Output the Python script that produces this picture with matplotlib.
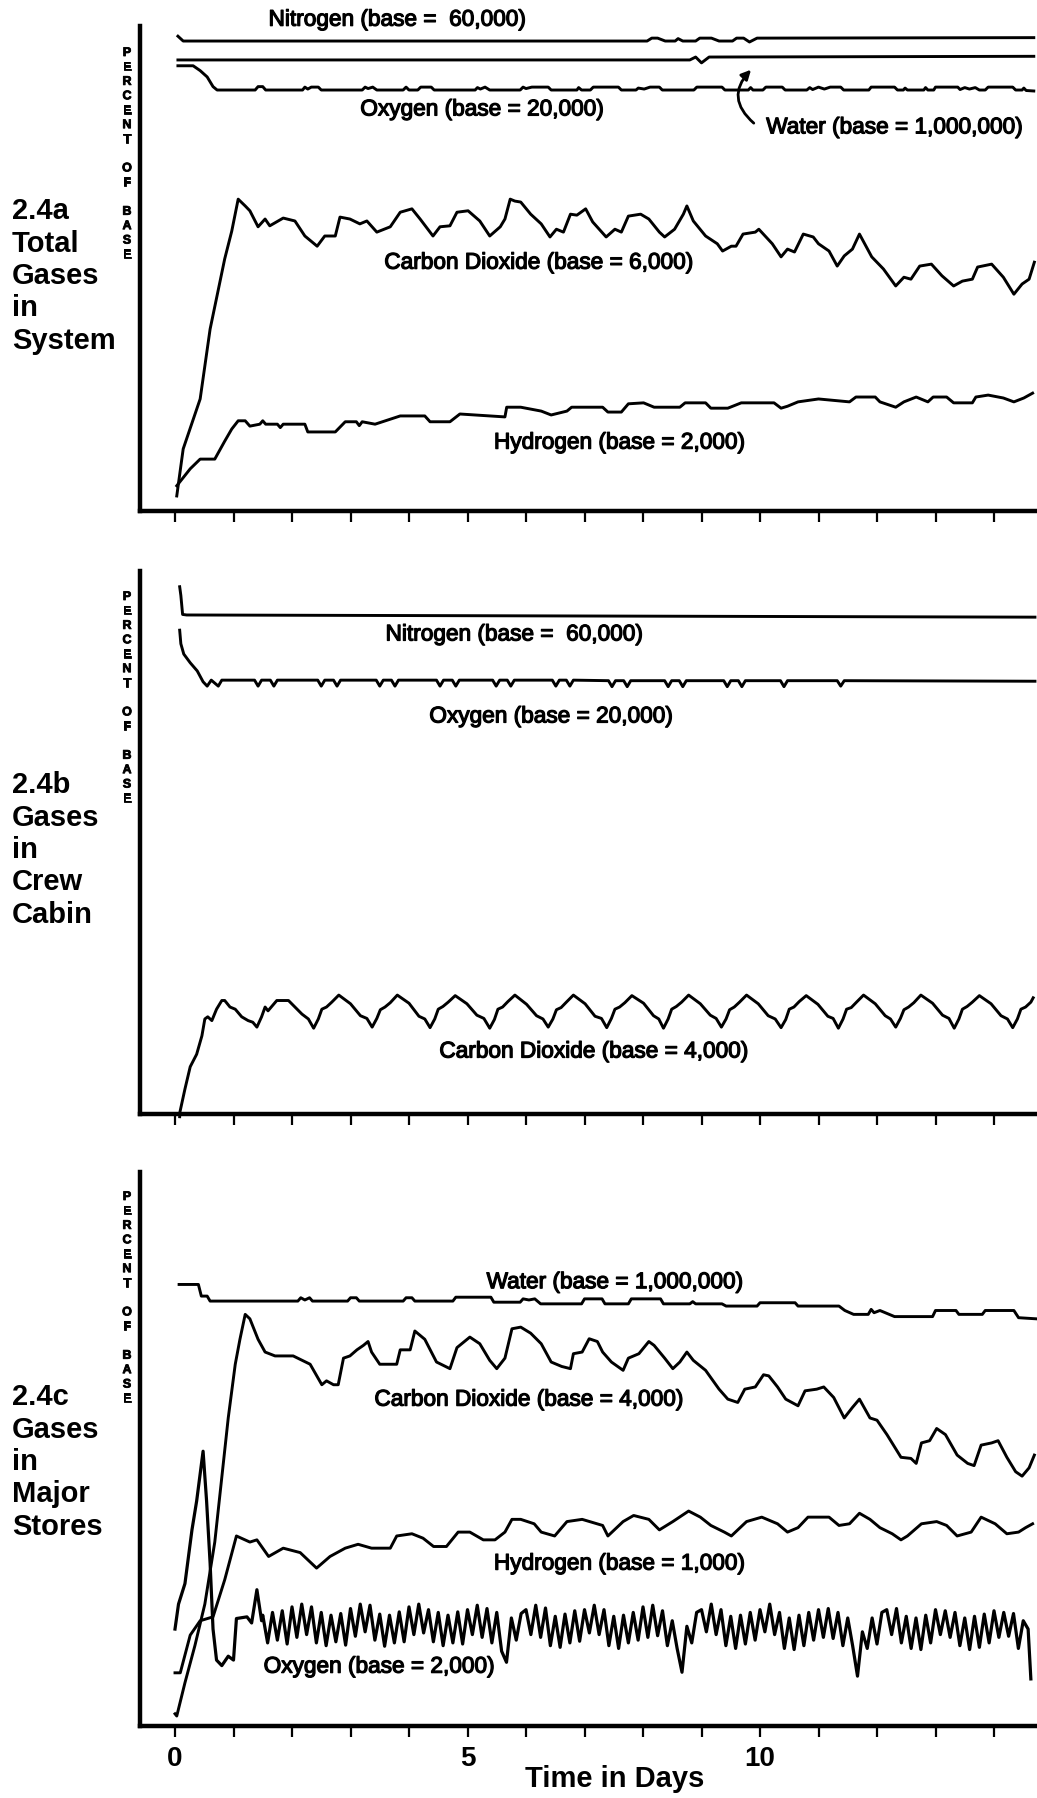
import numpy as np
import matplotlib
matplotlib.use("Agg")
import matplotlib.pyplot as plt
import matplotlib.patheffects as pe

plt.rcParams['font.family'] = ['Liberation Sans', 'DejaVu Sans']

# ---------------- Panel 2.4a : Total gases in system ----------------
a_n2_t = [0.05, 0.14, 8.07, 8.15, 8.25, 8.38, 8.55, 8.6, 8.68, 8.9, 8.97, 9.17, 9.3, 9.53, 9.6, 9.72, 9.82, 9.95, 14.68]
a_n2_v = [97.9, 96.9, 96.9, 97.5, 97.5, 96.9, 96.9, 97.4, 96.9, 96.9, 97.5, 97.5, 96.9, 96.9, 97.5, 97.5, 96.7, 97.5, 97.6]

a_h2o_t = [0.05, 8.8, 8.9, 9.0, 9.13, 14.68]
a_h2o_v = [93.0, 93.0, 93.6, 92.4, 93.6, 93.75]

a_o2_t = [0.05, 0.31, 0.43, 0.55, 0.65, 0.72, 1.37, 1.42, 1.5, 1.55, 2.18, 2.22, 2.27, 2.33, 2.45, 2.5,
          3.2, 3.25, 3.3, 3.38, 3.45, 3.9, 3.95, 4.0, 4.15, 4.2, 4.38, 4.43, 5.13, 5.17, 5.22, 5.3, 5.38,
          5.9, 5.95, 6.0, 6.1, 6.38, 6.43, 6.87, 6.9, 6.95, 7.1, 7.15, 7.58, 7.63, 7.88, 7.92, 8.02, 8.12,
          8.28, 8.33, 8.87, 8.92, 9.35, 9.4, 9.8, 9.84, 9.88, 10.05, 10.1, 10.38, 10.43, 10.8, 10.85, 10.9,
          11.0, 11.1, 11.2, 11.38, 11.43, 11.86, 11.9, 12.3, 12.35, 12.45, 12.48, 12.52, 12.8, 12.83, 12.87,
          12.97, 13.0, 13.38, 13.42, 13.5, 13.58, 13.68, 13.75, 13.85, 13.9, 14.32, 14.37, 14.48, 14.51,
          14.55, 14.68]
a_o2_v = [91.8, 91.8, 90.8, 89.5, 87.5, 86.8, 86.8, 87.5, 87.5, 86.8, 86.8, 87.4, 87.0, 87.4, 87.4, 86.8,
          86.8, 87.4, 87.1, 87.4, 86.8, 86.8, 87.4, 86.8, 86.8, 87.4, 87.4, 86.8, 86.8, 87.3, 87.0, 87.4, 86.8,
          86.8, 87.4, 87.1, 87.4, 87.4, 86.8, 86.8, 87.3, 86.8, 86.8, 87.4, 87.4, 86.8, 86.8, 87.2, 87.0, 87.4,
          87.4, 86.8, 86.8, 87.4, 87.4, 86.8, 86.8, 87.3, 86.8, 86.8, 87.4, 87.4, 86.8, 86.8, 87.3, 86.9,
          87.4, 87.0, 87.4, 87.4, 86.8, 86.8, 87.4, 87.4, 86.8, 86.8, 87.2, 86.8, 86.8, 87.3, 86.8,
          86.8, 87.4, 87.4, 86.9, 87.3, 87.0, 87.3, 86.8, 86.8, 87.4, 87.4, 86.8, 86.8, 87.2,
          86.7, 86.6]

a_co2_t = [0.03, 0.14, 0.43, 0.6, 0.85, 0.97, 1.08, 1.2, 1.28, 1.42, 1.54, 1.62, 1.85, 2.05, 2.22, 2.43,
           2.56, 2.74, 2.82, 2.99, 3.16, 3.28, 3.45, 3.68, 3.85, 4.05, 4.19, 4.41, 4.53, 4.7, 4.82, 5.01,
           5.21, 5.38, 5.56, 5.64, 5.73, 5.81, 5.91, 6.08, 6.26, 6.41, 6.52, 6.64, 6.76, 6.87, 7.02, 7.14,
           7.37, 7.52, 7.63, 7.75, 7.96, 8.1, 8.28, 8.37, 8.54, 8.69, 8.75, 8.86, 9.07, 9.27, 9.36, 9.51,
           9.59, 9.71, 9.92, 9.98, 10.21, 10.36, 10.47, 10.59, 10.74, 10.91, 11.0, 11.18, 11.32, 11.44,
           11.58, 11.7, 11.91, 12.11, 12.32, 12.46, 12.58, 12.73, 12.93, 13.11, 13.31, 13.46, 13.63,
           13.72, 13.96, 14.16, 14.34, 14.48, 14.6, 14.69]
a_co2_v = [3.1, 12.8, 23.1, 37.5, 52.0, 57.7, 64.3, 62.9, 61.9, 58.6, 60.2, 58.8, 60.4, 59.8, 56.7, 54.6,
           56.7, 56.7, 60.6, 60.2, 59.2, 59.8, 57.5, 58.6, 61.6, 62.3, 60.2, 56.7, 58.6, 58.8, 61.6, 61.9,
           59.8, 56.7, 58.6, 60.2, 64.3, 63.9, 63.7, 61.2, 59.2, 56.5, 58.1, 57.5, 61.2, 61.0, 62.3, 59.6,
           56.5, 58.1, 57.5, 60.8, 61.2, 60.2, 57.5, 56.5, 58.1, 61.2, 62.9, 59.8, 56.7, 55.1, 53.6, 54.6,
           54.6, 57.1, 57.5, 58.1, 55.1, 52.4, 54.0, 53.4, 57.1, 56.5, 55.1, 53.6, 50.5, 52.6,
           54.0, 57.1, 52.4, 49.9, 46.4, 48.2, 47.8, 50.5, 50.9, 48.5, 46.4, 47.4, 47.8,
           50.3, 50.9, 48.2, 44.7, 46.8, 47.8, 51.3]

a_h2_t = [0.03, 0.26, 0.43, 0.68, 0.85, 0.97, 1.08, 1.2, 1.28, 1.45, 1.5, 1.55, 1.75, 1.8, 1.85, 2.22,
          2.27, 2.74, 2.91, 3.1, 3.15, 3.2, 3.42, 3.85, 4.27, 4.36, 4.7, 4.87, 5.64, 5.67, 5.91, 6.26,
          6.43, 6.7, 6.78, 7.31, 7.4, 7.63, 7.75, 8.01, 8.19, 8.63, 8.72, 9.07, 9.16, 9.45, 9.68, 10.24,
          10.36, 10.47, 10.65, 11.0, 11.53, 11.64, 11.97, 12.05, 12.32, 12.46, 12.67, 12.87, 12.96,
          13.19, 13.31, 13.63, 13.69, 13.9, 14.16, 14.34, 14.51, 14.66]
a_h2_v = [5.2, 8.7, 10.7, 10.7, 14.4, 16.9, 18.6, 18.6, 17.5, 17.9, 18.6, 17.9, 17.9, 17.2, 17.9, 17.9,
          16.3, 16.3, 18.4, 18.4, 17.6, 18.4, 17.9, 19.6, 19.6, 18.4, 18.4, 20.0, 19.4, 21.4, 21.4, 20.6,
          19.8, 20.6, 21.4, 21.4, 20.4, 20.4, 22.1, 22.3, 21.4, 21.4, 22.3, 22.3, 21.2, 21.2, 22.3, 22.3,
          21.2, 21.6, 22.5, 23.1, 22.5, 23.5, 23.5, 22.5, 21.4, 22.5, 23.5, 22.5, 23.5,
          23.5, 22.3, 22.3, 23.5, 23.9, 23.3, 22.5, 23.3, 24.3]

# ---------------- Panel 2.4b : Gases in crew cabin ----------------
b_n2_t = [0.08, 0.1, 0.13, 0.2, 14.7]
b_n2_v = [97.1, 95.5, 92.0, 91.9, 91.5]

b_o2_t = [0.08, 0.1, 0.15, 0.26, 0.38, 0.48, 0.55, 0.62, 0.74, 0.8,
          1.36, 1.42, 1.48, 1.63, 1.69, 1.75,
          2.44, 2.5, 2.56, 2.71, 2.77, 2.83,
          3.44, 3.5, 3.56, 3.7, 3.76, 3.82,
          4.47, 4.53, 4.59, 4.74, 4.8, 4.86,
          5.43, 5.49, 5.55, 5.68, 5.74, 5.8,
          6.45, 6.51, 6.57, 6.69, 6.75, 6.81,
          7.41, 7.47, 7.53, 7.67, 7.73, 7.79,
          8.37, 8.43, 8.49, 8.62, 8.68, 8.74,
          9.38, 9.44, 9.5, 9.63, 9.69, 9.75,
          10.35, 10.41, 10.47,
          11.32, 11.38, 11.44,
          14.7]
b_o2_v = [89.1, 86.6, 84.7, 83.1, 81.6, 79.6, 78.8, 79.9, 78.8, 79.9,
          79.9, 78.8, 79.9, 79.9, 78.8, 79.9,
          79.9, 78.8, 79.9, 79.9, 78.8, 79.9,
          79.9, 78.8, 79.9, 79.9, 78.8, 79.9,
          79.9, 78.8, 79.9, 79.9, 78.8, 79.9,
          79.9, 78.8, 79.9, 79.9, 78.8, 79.9,
          79.9, 78.8, 79.9, 79.9, 78.8, 79.9,
          79.8, 78.7, 79.8, 79.8, 78.7, 79.8,
          79.8, 78.7, 79.8, 79.8, 78.7, 79.8,
          79.8, 78.7, 79.8, 79.8, 78.7, 79.8,
          79.8, 78.7, 79.8,
          79.8, 78.8, 79.8,
          79.7]

b_co2_t = [0.08, 0.085, 0.17, 0.26, 0.37, 0.46, 0.51, 0.56, 0.63, 0.71, 0.8, 0.85, 0.94, 1.03, 1.14, 1.25,
           1.33, 1.4, 1.48, 1.54, 1.59, 1.74, 1.94, 2.05, 2.17, 2.28,
           2.37, 2.45, 2.51, 2.59, 2.68, 2.80, 3.00, 3.17, 3.28,
           3.37, 3.45, 3.51, 3.59, 3.68, 3.80, 4.00, 4.17, 4.27,
           4.36, 4.44, 4.50, 4.58, 4.67, 4.79, 4.99, 5.16, 5.28,
           5.38, 5.46, 5.52, 5.60, 5.69, 5.81, 6.01, 6.18, 6.29,
           6.38, 6.46, 6.52, 6.60, 6.69, 6.81, 7.01, 7.18, 7.29,
           7.38, 7.46, 7.52, 7.60, 7.69, 7.81, 8.01, 8.18, 8.27,
           8.35, 8.43, 8.49, 8.57, 8.66, 8.78, 8.98, 9.15, 9.25,
           9.34, 9.42, 9.48, 9.56, 9.65, 9.77, 9.97, 10.14, 10.26,
           10.36, 10.44, 10.50, 10.58, 10.67, 10.79, 10.99, 11.16, 11.25,
           11.34, 11.42, 11.48, 11.56, 11.65, 11.77, 11.97, 12.14, 12.23,
           12.32, 12.40, 12.46, 12.54, 12.63, 12.75, 12.95, 13.12, 13.23,
           13.32, 13.40, 13.46, 13.54, 13.63, 13.75, 13.95, 14.12, 14.23,
           14.32, 14.40, 14.46, 14.54, 14.63, 14.67]
b_co2_v = [-0.5, 0.4, 4.6, 8.7, 11.0, 14.4, 17.5, 17.9, 17.2, 19.3, 20.9, 20.9, 19.7, 19.3, 17.9, 17.2,
           16.9, 16.0, 17.9, 19.7, 19.0, 20.9, 20.9, 19.7, 18.4, 17.5,
           15.8, 17.5, 19.3, 19.7, 20.6, 21.9, 20.3, 18.1, 17.6,
           16.0, 17.6, 19.2, 19.7, 20.5, 21.9, 20.4, 18.0, 17.5,
           15.9, 17.5, 19.3, 19.8, 20.6, 21.8, 20.3, 18.2, 17.6,
           15.8, 17.4, 19.3, 19.7, 20.7, 21.9, 20.2, 18.1, 17.5,
           16.0, 17.5, 19.2, 19.6, 20.6, 21.9, 20.3, 18.0, 17.6,
           15.9, 17.6, 19.3, 19.7, 20.5, 21.8, 20.4, 18.1, 17.5,
           15.8, 17.5, 19.3, 19.8, 20.6, 21.9, 20.3, 18.2, 17.6,
           16.0, 17.5, 19.2, 19.7, 20.6, 21.9, 20.3, 18.1, 17.5,
           15.9, 17.4, 19.3, 19.7, 20.7, 21.8, 20.2, 18.0, 17.6,
           15.8, 17.5, 19.3, 19.6, 20.6, 21.9, 20.3, 18.1, 17.5,
           16.0, 17.6, 19.2, 19.7, 20.5, 21.9, 20.4, 18.2, 17.6,
           15.8, 17.5, 19.3, 19.8, 20.6, 21.8, 20.3, 18.1, 17.5,
           15.9, 17.5, 19.3, 19.7, 20.6, 21.4]

# ---------------- Panel 2.4c : Gases in major stores ----------------
c_h2o_t = [0.07, 0.4, 0.45, 0.55, 0.6, 2.1, 2.15, 2.22, 2.3, 2.35, 2.95, 3.0, 3.1, 3.15, 3.9, 3.95, 4.05,
           4.1, 4.75, 4.8, 5.4, 5.45, 5.9, 5.95, 6.05, 6.15, 6.25, 6.95, 7.0, 7.3, 7.35, 7.75, 7.8, 8.3,
           8.35, 8.8, 8.85, 8.9, 9.35, 9.42, 9.95, 10.0, 10.6, 10.65, 11.35, 11.45, 11.6, 11.85, 11.9,
           11.95, 12.05, 12.3, 12.95, 13.0, 13.35, 13.4, 13.8, 13.85, 14.34, 14.42, 14.72]
c_h2o_v = [79.7, 79.7, 77.6, 77.6, 76.7, 76.7, 77.3, 76.9, 77.3, 76.7, 76.7, 77.3, 77.3, 76.7, 76.7, 77.3, 77.3,
           76.7, 76.7, 77.4, 77.4, 76.5, 76.5, 77.1, 76.9, 77.1, 76.2, 76.2, 77.1, 77.1, 76.2, 76.2, 77.1, 77.1,
           76.2, 76.2, 76.6, 76.2, 76.2, 75.8, 75.8, 76.4, 76.4, 75.8, 75.8, 75.0, 74.3, 74.3, 75.2,
           74.6, 75.0, 73.9, 73.9, 75.0, 75.0, 74.3, 74.3, 75.0, 75.0, 73.7, 73.5]

c_co2_t = [0.0, 0.03, 0.17, 0.34, 0.51, 0.68, 0.91, 1.03, 1.11, 1.2, 1.28, 1.42, 1.54, 1.71, 2.02, 2.31,
           2.51, 2.59, 2.71, 2.79, 2.88, 2.99, 3.11, 3.22, 3.3, 3.36, 3.5, 3.79, 3.85, 4.02, 4.1, 4.27,
           4.47, 4.7, 4.82, 5.04, 5.21, 5.38, 5.5, 5.64, 5.76, 5.91, 6.08, 6.26, 6.43, 6.61, 6.76, 6.81,
           6.96, 7.08, 7.22, 7.31, 7.46, 7.66, 7.75, 7.93, 8.1, 8.19, 8.37, 8.51, 8.63, 8.75, 8.86, 9.07,
           9.3, 9.45, 9.62, 9.74, 9.92, 10.06, 10.15, 10.3, 10.44, 10.65, 10.77, 10.97, 11.09, 11.26,
           11.44, 11.58, 11.7, 11.88, 12.0, 12.17, 12.41, 12.58, 12.67, 12.76, 12.9, 13.02, 13.17, 13.37,
           13.55, 13.66, 13.78, 13.96, 14.07, 14.22, 14.37, 14.48, 14.6, 14.69]
c_co2_v = [2.2, 1.8, 7.8, 14.5, 22.0, 33.2, 55.6, 65.3, 69.8, 74.3, 73.5, 69.8, 67.5, 66.8, 66.8, 65.3,
           61.6, 62.3, 61.6, 61.6, 66.4, 66.8, 67.9, 68.7, 69.4, 67.5, 65.3, 65.3, 67.9, 67.9, 71.3, 69.8,
           65.7, 64.5, 68.3, 70.2, 69.0, 66.0, 64.5, 66.4, 71.7, 72.0, 70.9, 69.0, 65.7, 64.9, 64.5, 67.2,
           67.5, 69.9, 69.4, 67.5, 65.7, 64.2, 66.4, 67.2, 69.4, 68.7, 66.4, 64.5, 65.7, 67.5, 66.0, 64.2,
           60.8, 59.0, 58.4, 60.8, 61.2, 63.4, 63.2, 61.2, 59.0, 57.8, 60.5, 60.8, 61.2, 59.3,
           55.6, 57.5, 59.0, 55.6, 55.2, 52.6, 48.5, 48.3, 47.4, 51.1, 51.5, 53.7, 52.6, 48.9,
           47.4, 47.0, 50.7, 51.1, 51.5, 48.5, 45.9, 45.1, 46.6, 48.9]

c_h2_t = [0.0, 0.09, 0.26, 0.43, 0.65, 0.85, 1.05, 1.28, 1.4, 1.6, 1.85, 2.14, 2.42, 2.65, 2.91, 3.13,
          3.36, 3.68, 3.79, 4.05, 4.24, 4.42, 4.64, 4.84, 5.04, 5.27, 5.47, 5.64, 5.76, 5.91, 6.14, 6.26,
          6.49, 6.7, 6.96, 7.31, 7.4, 7.66, 7.84, 8.1, 8.28, 8.51, 8.78, 8.98, 9.16, 9.39, 9.51, 9.77,
          10.03, 10.3, 10.47, 10.65, 10.82, 11.18, 11.35, 11.53, 11.7, 11.88, 12.05, 12.26, 12.41, 12.52,
          12.76, 13.02, 13.19, 13.37, 13.61, 13.78, 14.02, 14.22, 14.42, 14.54, 14.66]
c_h2_v = [9.6, 9.6, 16.4, 19.0, 19.7, 26.4, 34.3, 33.2, 33.6, 30.6, 32.1, 31.3, 28.5, 30.6, 32.1, 32.8,
          32.1, 32.1, 34.3, 34.7, 33.9, 32.4, 32.4, 35.0, 35.0, 33.6, 33.6, 35.0, 37.3, 37.3, 36.5, 35.0,
          34.3, 36.9, 37.3, 36.2, 34.3, 36.9, 38.0, 37.3, 35.4, 36.9, 38.8, 37.7, 36.2, 35.0, 34.3, 36.9,
          37.7, 36.5, 35.0, 35.8, 37.7, 37.7, 36.2, 36.5, 38.4, 37.3, 35.8, 34.7, 33.6, 34.3,
          36.5, 36.9, 36.2, 34.3, 35.0, 37.7, 36.5, 34.7, 35.0, 35.8, 36.5]

c_o2_t_early = [0.0, 0.06, 0.17, 0.29, 0.37, 0.48, 0.54, 0.6, 0.65, 0.71, 0.8, 0.91, 1.0, 1.05, 1.23, 1.31, 1.4, 1.48]
c_o2_v_early = [17.5, 22.0, 25.7, 35.4, 40.6, 49.6, 40.6, 29.4, 17.5, 11.9, 10.9, 12.6, 11.9, 19.4, 19.7, 18.6, 24.6, 19.0]
# oscillating part, sampled every 1/12 day from day 1.5
c_o2_v_osc = [20.0, 15.0, 20.5, 15.5, 20.8, 14.8, 21.5, 16.0, 22.0, 16.5, 21.5, 15.0,
              20.5, 14.5, 20.0, 15.2, 20.3, 14.6, 21.2, 16.2, 22.0, 17.0, 21.8, 15.5,
              20.2, 14.4, 20.0, 15.0, 20.6, 15.2, 21.5, 16.5, 22.0, 16.8, 21.0, 15.2,
              20.5, 14.5, 20.0, 15.0, 20.6, 14.8, 21.0, 16.5, 21.8, 16.0, 21.2, 15.0,
              20.5, 13.5, 11.5, 19.5, 15.5, 20.3, 21.0, 16.5, 21.8, 16.0, 21.3, 14.5,
              19.8, 14.2, 20.2, 15.0, 20.8, 15.3, 21.0, 16.8, 21.8, 16.5, 21.0, 14.5,
              19.8, 14.0, 20.0, 15.0, 20.5, 15.5, 21.5, 16.0, 21.8, 16.3, 20.8, 14.5,
              19.0, 14.0, 9.7, 18.0, 15.0, 20.5, 21.0, 17.0, 22.0, 16.5, 21.0, 14.5,
              19.8, 14.0, 20.0, 14.8, 20.5, 15.5, 21.0, 17.0, 22.0, 16.5, 20.5, 14.0,
              19.5, 13.8, 20.0, 14.5, 20.5, 15.5, 21.0, 16.0, 21.2, 15.8, 20.5, 14.5,
              19.5, 14.5, 9.0, 17.0, 14.0, 19.5, 14.8, 20.5, 21.0, 16.5, 21.2, 15.0,
              19.8, 14.0, 19.5, 13.8, 20.0, 15.0, 21.0, 16.5, 20.8, 16.0, 20.5, 14.5,
              19.5, 13.8, 19.8, 14.2, 20.2, 15.0, 20.8, 16.0, 20.5, 16.2, 20.3, 14.0,
              19.0, 17.5]
c_o2_t_osc = [round(1.5 + i / 12, 4) for i in range(len(c_o2_v_osc))]
c_o2_t = c_o2_t_early + c_o2_t_osc + [14.63]
c_o2_v = c_o2_v_early + c_o2_v_osc + [8.5]

day_ticks = list(range(15))
c_tick_labels = ['0', '', '', '', '', '5', '', '', '', '', '10', '', '', '', '']

# ---------------- Figure ----------------
W, H = 1037, 1799
fig = plt.figure(figsize=(W / 100, H / 100), dpi=100)
fig.patch.set_facecolor('white')

XMIN, XMAX = (140 - 175) / 58.5, (1037 - 175) / 58.5


def make_axes(top_px, bottom_px):
    ax = fig.add_axes([140 / W, 1 - bottom_px / H, (W - 140) / W, (bottom_px - top_px) / H])
    ax.set_xlim(XMIN, XMAX)
    ax.set_ylim(0, 100)
    for s in ('top', 'right'):
        ax.spines[s].set_visible(False)
    for s in ('left', 'bottom'):
        ax.spines[s].set_linewidth(3.2)
        ax.spines[s].set_capstyle('projecting')
    ax.set_yticks([])
    ax.set_xticks(day_ticks)
    ax.tick_params(axis='x', direction='out', length=8, width=1.6, labelbottom=False)
    ax.patch.set_alpha(0)
    return ax


LW = 2.1
heavy = [pe.withStroke(linewidth=0.9, foreground='black')]
lab_kw = dict(ha='center', va='center', fontsize=16.3, color='black', path_effects=heavy)

# Panel a
ax_a = make_axes(27, 512)
for t, v in ((a_n2_t, a_n2_v), (a_h2o_t, a_h2o_v), (a_o2_t, a_o2_v), (a_co2_t, a_co2_v), (a_h2_t, a_h2_v)):
    ax_a.plot(t, v, color='black', lw=LW, solid_joinstyle='round', clip_on=False)
ax_a.text(3.8, 101.4, 'Nitrogen (base =  60,000)', **lab_kw)
ax_a.text(5.25, 82.9, 'Oxygen (base = 20,000)', **lab_kw)
ax_a.text(12.3, 79.2, 'Water (base = 1,000,000)', **lab_kw)
ax_a.text(6.22, 51.3, 'Carbon Dioxide (base = 6,000)', **lab_kw)
ax_a.text(7.6, 14.2, 'Hydrogen (base = 2,000)', **lab_kw)
ax_a.annotate('', xy=(9.88, 91.4), xytext=(9.93, 79.6),
              arrowprops=dict(arrowstyle='-|>', color='black', lw=2.0, mutation_scale=14,
                              connectionstyle='arc3,rad=-0.55'))

# Panel b
ax_b = make_axes(572, 1115)
for t, v in ((b_n2_t, b_n2_v), (b_o2_t, b_o2_v), (b_co2_t, b_co2_v)):
    ax_b.plot(t, v, color='black', lw=LW, solid_joinstyle='round', clip_on=False)
ax_b.text(5.8, 88.4, 'Nitrogen (base =  60,000)', **lab_kw)
ax_b.text(6.43, 73.3, 'Oxygen (base = 20,000)', **lab_kw)
ax_b.text(7.16, 11.6, 'Carbon Dioxide (base = 4,000)', **lab_kw)

# Panel c
ax_c = make_axes(1173, 1727)
for t, v in ((c_h2o_t, c_h2o_v), (c_co2_t, c_co2_v), (c_h2_t, c_h2_v)):
    ax_c.plot(t, v, color='black', lw=LW, solid_joinstyle='round', clip_on=False)
ax_c.plot(c_o2_t, c_o2_v, color='black', lw=2.3, solid_joinstyle='round', clip_on=False)
ax_c.text(7.52, 80.2, 'Water (base = 1,000,000)', **lab_kw)
ax_c.text(6.05, 59.0, 'Carbon Dioxide (base = 4,000)', **lab_kw)
ax_c.text(7.6, 29.4, 'Hydrogen (base = 1,000)', **lab_kw)
ax_c.text(3.49, 10.8, 'Oxygen (base = 2,000)', **lab_kw)
ax_c.tick_params(axis='x', labelbottom=True, labelsize=20, pad=6)
ax_c.set_xticklabels(c_tick_labels, fontweight='bold')

# Side titles
title_kw = dict(ha='left', va='center', fontsize=21, fontweight='bold', linespacing=1.2)
fig.text(12 / W, 1 - 276 / H, '2.4a\nTotal\nGases\nin\nSystem', **title_kw)
fig.text(12 / W, 1 - 850 / H, '2.4b\nGases\nin\nCrew\nCabin', **title_kw)
fig.text(12 / W, 1 - 1462 / H, '2.4c\nGases\nin\nMajor\nStores', **title_kw)

# Vertical "PERCENT OF BASE"
pob = '\n'.join(list('PERCENT OF BASE'))
pob_kw = dict(ha='center', va='top', fontsize=9, fontweight='bold', linespacing=1.27,
              path_effects=[pe.withStroke(linewidth=0.6, foreground='black')])
for top in (48, 592, 1192):
    fig.text(127 / W, 1 - top / H, pob, **pob_kw)

fig.text(615 / W, 1 - 1779 / H, 'Time in Days', ha='center', va='center', fontsize=21, fontweight='bold')

fig.savefig('out.png', dpi=100, facecolor='white')
